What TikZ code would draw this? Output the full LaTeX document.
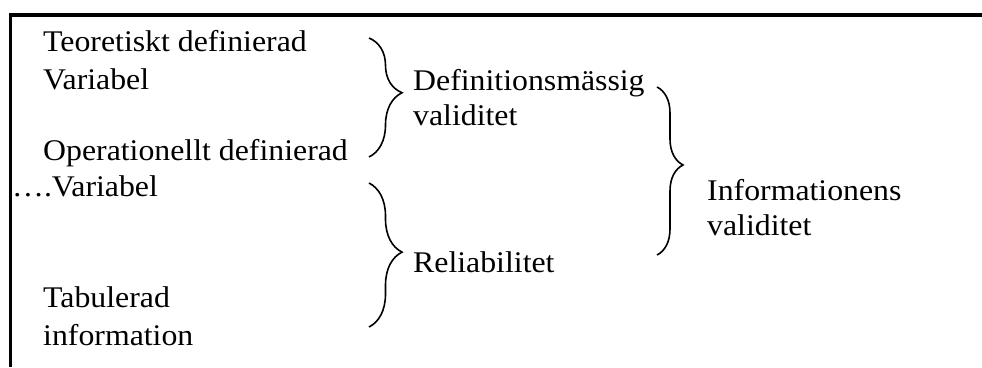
\documentclass[tikz,border=0pt]{standalone}
\usepackage{fontspec}
\setmainfont{Liberation Serif}[FakeStretch=1.06]
\usetikzlibrary{decorations.pathreplacing}
\begin{document}
\begin{tikzpicture}[x=1pt,y=-1pt,
  txt/.style={anchor=base west,inner sep=0pt,font=\fontsize{30}{36}\selectfont},
  frameline/.style={line width=3.3pt},
  bracebig/.style={decorate,decoration={brace,amplitude=#1},line width=1.6pt},
  bracebig/.default=32pt]
\fill[white] (0,0) rectangle (982,367);
\useasboundingbox (0,0) rectangle (982,367);
% frame
\coordinate (fa) at (982,15);
\coordinate (fb) at (10.7,15);
\coordinate (fc) at (10.7,367);
\draw[frameline] (fa) -- (fb) -- (fc);
% left column
\node[txt] (t1) at (43,51.7) {Teoretiskt definierad};
\node[txt] (t2) at (43,89.3) {Variabel};
\node[txt] (o1) at (43,160) {Operationellt definierad};
\node[txt] (o2) at (12,196.7) {….Variabel};
\node[txt] (ta1) at (43,307) {Tabulerad};
\node[txt] (ta2) at (43,345) {information};
% middle column
\node[txt] (d1) at (413,90) {Definitionsmässig};
\node[txt] (d2) at (413,125) {validitet};
\node[txt] (r1) at (413,272) {Reliabilitet};
% right column
\node[txt] (i1) at (707,200) {Informationens};
\node[txt] (i2) at (707,235) {validitet};
% braces
\coordinate (b1a) at (369,38);
\coordinate (b1b) at (369,157);
\coordinate (b2a) at (369,183);
\coordinate (b2b) at (369,327);
\coordinate (b3a) at (657,87);
\coordinate (b3b) at (657,255);
\draw[bracebig=33pt,decoration={aspect=0.46}] (b1a) -- (b1b);
\draw[bracebig=33pt,decoration={aspect=0.48}] (b2a) -- (b2b);
\draw[bracebig=26pt,decoration={aspect=0.464}] (b3a) -- (b3b);
\end{tikzpicture}
\end{document}
